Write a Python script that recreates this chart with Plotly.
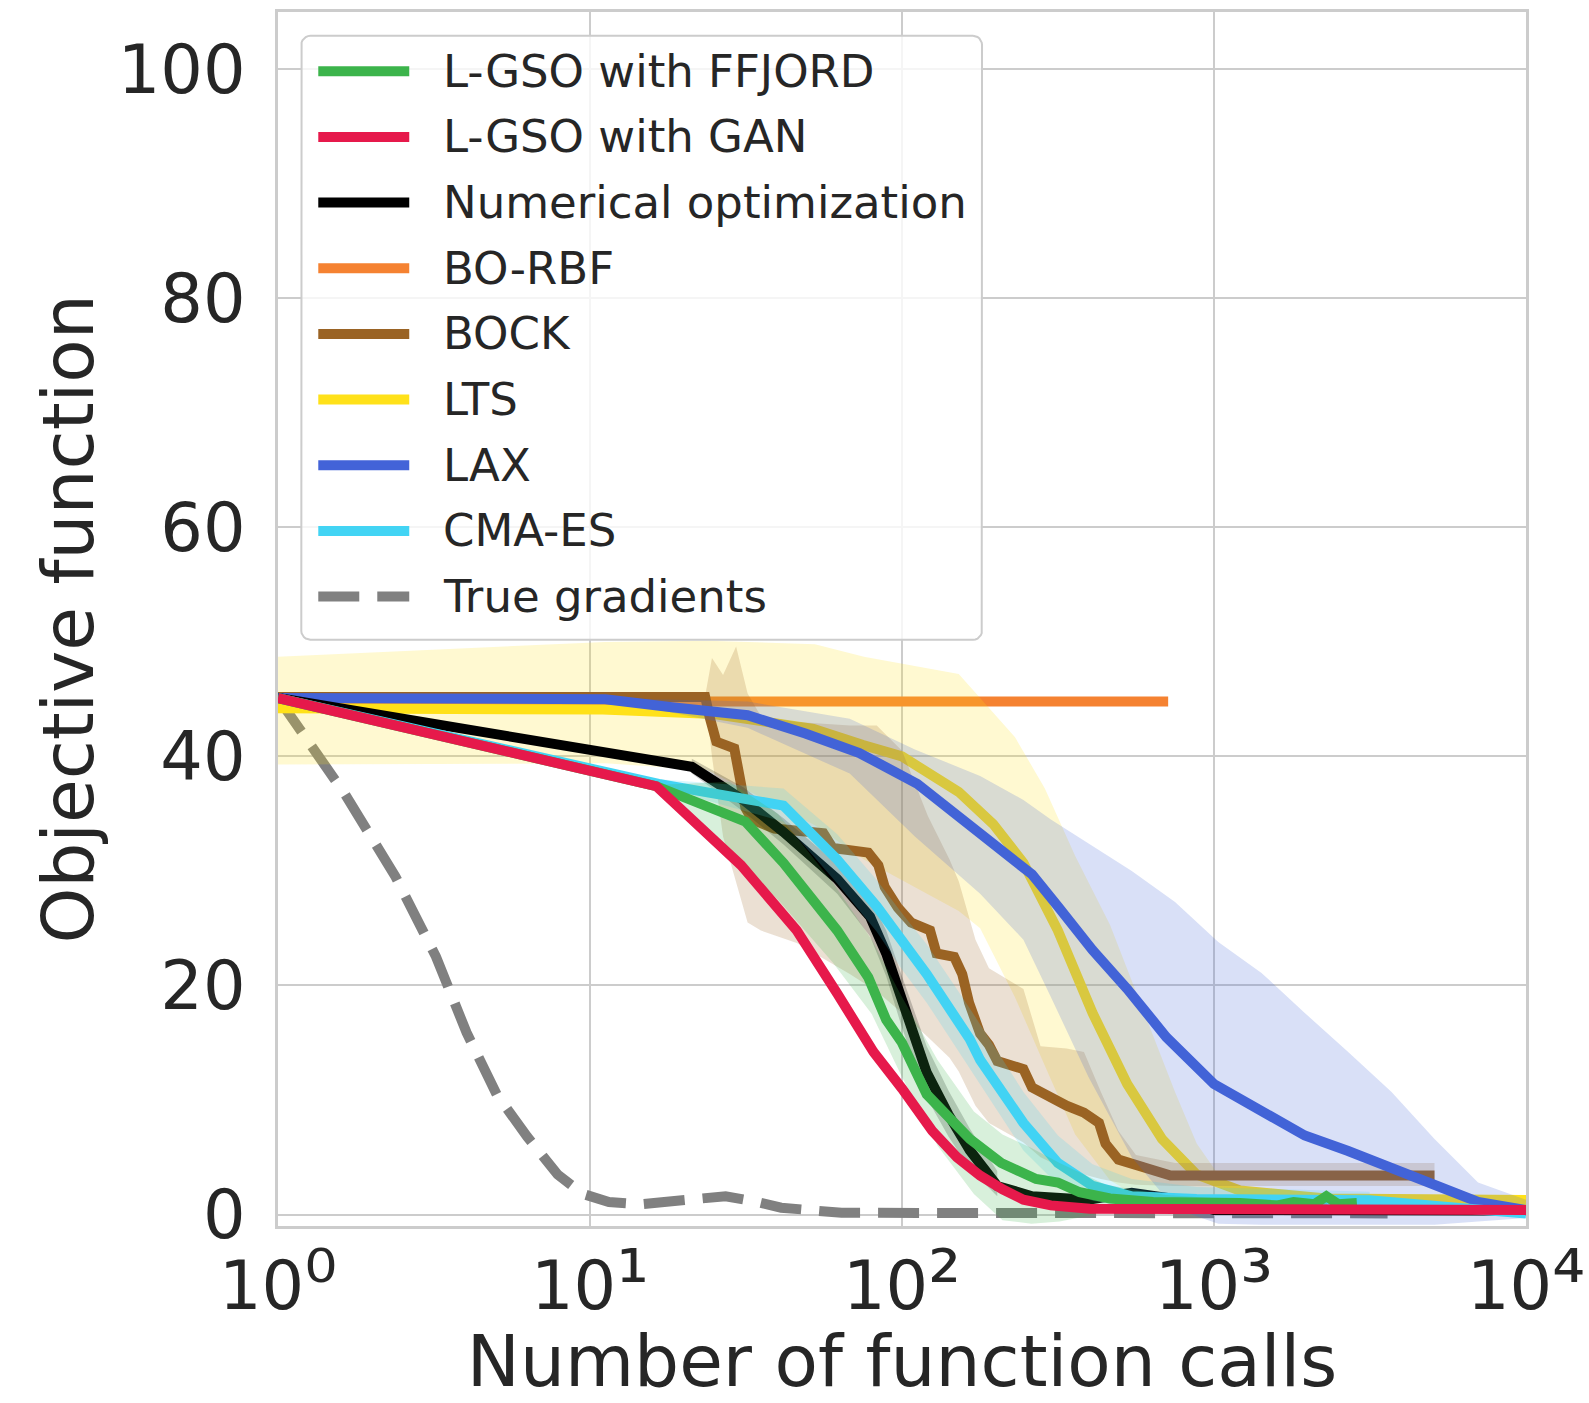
import math
import plotly.graph_objects as go

# ---------------- data ----------------
X_TICKS = [1, 10, 100, 1000, 10000]
X_TICK_EXP = ["⁰", "¹", "²", "³", "⁴"]
Y_TICKS = [0, 20, 40, 60, 80, 100]

LABELS = ["L-GSO with FFJORD", "L-GSO with GAN", "Numerical optimization", "BO-RBF",
          "BOCK", "LTS", "LAX", "CMA-ES", "True gradients"]
COLORS = ["#3CB44B", "#E6194B", "#000000", "#F58231", "#9A6324", "#FFE119", "#4363D8",
          "#42D4F4", "#808080"]

TG_X = [1, 1.64, 2.38, 3.21, 4.02, 5.02, 6.29, 7.87, 9.49, 11.5, 14.5, 17.7, 22, 27.2, 33, 41, 64, 227, 3600]
TG_Y = [45.1, 36.7, 29.5, 22.5, 15.9, 10.5, 6.8, 3.5, 1.8, 1.1, 0.9, 1.15, 1.5, 1.6, 1.2, 0.6, 0.15, 0.1, 0.1]

GAN_X = [1, 16.3, 30.5, 46, 62, 81, 100, 125, 150, 178, 210, 245, 300, 400, 10000]
GAN_Y = [45.1, 37.4, 30.5, 24.8, 19.3, 14.2, 11.0, 7.3, 5.0, 3.4, 2.2, 1.3, 0.8, 0.5, 0.4]

FF_X = [1, 16.3, 31.5, 41.7, 62, 78, 89, 100, 120, 165, 208, 269, 316, 371, 464, 638,
        1211, 1600, 1800, 2100, 2291, 2500, 2870]
FF_Y = [45.1, 37.4, 34.3, 30.7, 24.8, 20.7, 17.0, 15.0, 10.5, 6.6, 4.5, 3.1, 2.8, 1.95, 1.4, 1.1,
        1.0, 0.8, 1.1, 0.9, 1.6, 0.9, 1.0]

NUM_X = [1, 21.2, 31, 41.7, 62, 79, 89, 100, 120, 141, 165, 202, 261, 396, 545, 774, 1000, 10000]
NUM_Y = [45.1, 39.1, 36.2, 33.4, 29.3, 26.0, 22.8, 18.5, 12.4, 8.7, 5.6, 2.5, 1.6, 1.3, 1.9, 1.3, 0.4, 0.35]

CMA_X = [1, 16.6, 41.7, 62, 83, 100, 120, 165, 178, 245, 316, 408, 545, 879, 1667, 3155, 6000, 10000]
CMA_Y = [45.1, 37.6, 35.7, 31.0, 26.9, 23.8, 21.0, 15.3, 13.5, 8.0, 4.5, 2.5, 1.6, 1.35, 1.4, 1.25, 0.6, 0.1]

RBF_X = [1, 713]
RBF_Y = [44.8, 44.8]

BOCK_X = [1, 23.4, 24.2, 25.4, 29, 30, 31.5, 33.1, 39, 56, 60, 78, 84, 88, 97, 107, 123, 129, 147,
          156, 164, 178, 190, 202, 245, 261, 296, 337, 383, 428, 449, 494, 598, 726, 5090]
BOCK_Y = [45.2, 45.2, 43.4, 41.3, 40.7, 38.3, 35.5, 34.5, 33.7, 33.3, 32.0, 31.6, 30.5, 28.6, 26.8,
          25.5, 24.8, 22.8, 22.5, 21.0, 18.5, 15.8, 14.8, 13.4, 12.7, 11.1, 10.2, 9.5, 8.9, 8.0,
          6.2, 4.8, 4.1, 3.4, 3.4]

LTS_X = [1, 11, 25, 52, 75, 100, 152, 196, 245, 316, 408, 527, 681, 879, 1211, 2291, 10000]
LTS_Y = [44.2, 44.1, 43.7, 42.4, 41.0, 40.0, 36.9, 34.1, 30.7, 24.8, 17.6, 11.4, 6.6, 3.5, 2.1, 1.4, 1.26]

LAX_X = [1, 11.2, 18.3, 32, 49, 73, 112, 152, 178, 261, 316, 408, 527, 703, 1000, 1420, 1954,
         2692, 3707, 5100, 7020, 10000]
LAX_Y = [45.1, 45.0, 44.3, 43.6, 42.0, 40.3, 37.6, 34.8, 33.1, 29.7, 26.9, 23.1, 19.7, 15.5, 11.4,
         9.0, 6.9, 5.55, 4.0, 2.5, 1.1, 0.4]

# uncertainty bands (upper / lower edges)
LTSB_X = [1, 11.2, 23.8, 52.6, 75.5, 152, 178, 230, 287, 359, 464, 598, 750, 880, 1032, 1211, 1667, 10000]
LTSB_UP = [48.7, 50.0, 50.1, 49.8, 48.7, 47.2, 45.1, 41.7, 37.2, 31.3, 25.3, 17.6, 10.7, 6.2, 3.5, 2.1, 1.4, 1.3]
LTSB_LO = [39.3, 39.4, 38.8, 34.0, 31.0, 26.5, 25.0, 19.0, 13.0, 7.0, 3.0, 1.2, 0.8, 0.6, 0.6, 0.6, 0.6, 0.6]

BOCKB_X = [23.4, 24.6, 26.7, 29.4, 32, 35.3, 46, 68, 83, 100, 121, 142, 152, 172, 190, 245, 278,
           337, 383, 434, 494, 562, 750, 5090]
BOCKB_UP = [45.3, 48.6, 47.1, 49.6, 45.5, 43.5, 43.0, 42.7, 42.7, 40.5, 34.8, 31.0, 29.1, 24.0,
            21.5, 19.7, 14.7, 14.5, 14.2, 10.7, 7.3, 5.2, 4.5, 4.5]
BOCKB_LO = [45.3, 40.0, 33.0, 29.0, 25.5, 24.8, 23.7, 21.0, 19.5, 17.6, 15.5, 13.7, 12.5, 9.5,
            8.0, 6.3, 5.0, 3.9, 3.5, 3.1, 2.8, 2.6, 2.5, 2.5]

LAXB_X = [11.2, 32, 68, 110, 178, 245, 300, 396, 545, 750, 1032, 1420, 1954, 2692, 3707, 5090, 7020, 10000]
LAXB_UP = [45.1, 44.8, 43.3, 40.6, 38.3, 36.2, 34.5, 32.4, 30.0, 27.3, 23.8, 21.1, 17.6, 14.2,
           10.7, 6.6, 2.8, 1.3]
LAXB_LO = [45.0, 42.5, 38.5, 33.0, 28.0, 24.0, 19.0, 12.0, 5.0, 0.5, -0.8, -0.9, -0.9, -0.9,
           -0.9, -0.9, -0.6, -0.3]

NUMB_X = [21.2, 31, 41.7, 62, 79, 89, 100, 120, 141, 165, 202]
NUMB_UP = [39.8, 37.3, 34.6, 30.6, 27.6, 24.8, 20.8, 14.7, 10.8, 7.5, 3.8]
NUMB_LO = [38.5, 35.2, 32.3, 28.0, 24.3, 20.8, 16.3, 10.2, 6.8, 4.0, 1.6]

CMAB_X = [16.6, 41.7, 62, 83, 100, 120, 165, 245, 316, 408, 545, 879, 1667, 3155]
CMAB_UP = [38.0, 37.2, 33.2, 29.2, 26.3, 23.6, 18.0, 10.7, 6.9, 4.4, 3.1, 2.4, 2.2, 2.0]
CMAB_LO = [37.3, 34.3, 28.9, 24.7, 21.4, 18.5, 12.7, 5.6, 2.6, 1.2, 0.6, 0.6, 0.7, 0.6]

FFB_X = [16.3, 20, 28, 40, 60, 80, 100, 130, 170, 210, 260, 320, 450, 700, 1200, 2300]
FFB_UP = [37.5, 37.6, 37.8, 35.0, 29.0, 24.0, 19.0, 13.5, 9.0, 7.0, 5.8, 4.5, 2.6, 1.7, 1.3, 1.2]
FFB_LO = [37.2, 35.5, 31.5, 27.5, 22.0, 17.5, 12.0, 6.0, 1.8, -0.5, -0.8, -0.6, 0.2, 0.5, 0.6, 0.7]

# ---------------- figure ----------------
FONT = "DejaVu Sans"
TXT = "#262626"
LW = 10
DASH = "41px,18px"

fig = go.Figure()


def rgba(hex_color, a):
    h = hex_color.lstrip("#")
    r, g, b = int(h[0:2], 16), int(h[2:4], 16), int(h[4:6], 16)
    return f"rgba({r},{g},{b},{a})"


def add_line(x, y, idx, dash="solid"):
    fig.add_trace(go.Scatter(x=x, y=y, mode="lines", name=LABELS[idx],
                             line=dict(color=COLORS[idx], width=LW, dash=dash),
                             showlegend=False, hoverinfo="skip"))


def add_band(x, up, lo, idx):
    fig.add_trace(go.Scatter(x=list(x) + list(x)[::-1], y=list(up) + list(lo)[::-1],
                             mode="lines", fill="toself", fillcolor=rgba(COLORS[idx], 0.2),
                             line=dict(width=0), showlegend=False, hoverinfo="skip"))


add_line(TG_X, TG_Y, 8, DASH)
add_line(RBF_X, RBF_Y, 3)
add_line(LTS_X, LTS_Y, 5)
add_band(LTSB_X, LTSB_UP, LTSB_LO, 5)
add_line(BOCK_X, BOCK_Y, 4)
add_band(BOCKB_X, BOCKB_UP, BOCKB_LO, 4)
add_line(LAX_X, LAX_Y, 6)
add_band(LAXB_X, LAXB_UP, LAXB_LO, 6)
add_line(NUM_X, NUM_Y, 2)
add_band(NUMB_X, NUMB_UP, NUMB_LO, 2)
add_line(CMA_X, CMA_Y, 7)
add_band(CMAB_X, CMAB_UP, CMAB_LO, 7)
add_line(FF_X, FF_Y, 0)
add_band(FFB_X, FFB_UP, FFB_LO, 0)
add_line(GAN_X, GAN_Y, 1)

# ---------------- legend: framed box on an overlay (0..1) subplot ----------------
PL, PT, PW, PH = 277.7, 12.2, 1248.5, 1214.0  # plot-area geometry in px


def fx(xp):
    return (xp - PL) / PW


def fy(yp):
    return 1 - (yp - PT) / PH


bx0, bx1, by_top, by_bot = 301, 982, 36, 640
rad = 9
corners = [(bx1 - rad, by_top + rad, -90, 0), (bx1 - rad, by_bot - rad, 0, 90),
           (bx0 + rad, by_bot - rad, 90, 180), (bx0 + rad, by_top + rad, 180, 270)]
box_x, box_y = [], []
for cx, cy, a0, a1 in corners:
    for k in range(7):
        a = math.radians(a0 + (a1 - a0) * k / 6)
        box_x.append(fx(cx + rad * math.cos(a)))
        box_y.append(fy(cy + rad * math.sin(a)))
box_x.append(box_x[0])
box_y.append(box_y[0])
fig.add_trace(go.Scatter(x=box_x, y=box_y, xaxis="x2", yaxis="y2", mode="lines", fill="toself",
                         fillcolor="rgba(255,255,255,0.8)", line=dict(color="#cccccc", width=2),
                         showlegend=False, hoverinfo="skip"))

annotations = []
row0, row_gap = 71.5, 65.66
for i, lab in enumerate(LABELS):
    yc = fy(row0 + i * row_gap)
    fig.add_trace(go.Scatter(x=[fx(318), fx(409)], y=[yc, yc], xaxis="x2", yaxis="y2", mode="lines",
                             line=dict(color=COLORS[i], width=LW, dash=DASH if i == 8 else "solid"),
                             showlegend=False, hoverinfo="skip"))
    annotations.append(dict(xref="paper", yref="paper", x=fx(441), y=yc, text=lab, showarrow=False,
                            xanchor="left", yanchor="middle",
                            font=dict(family=FONT, size=45, color=TXT)))

tick_text = ["10<span style='font-size:82px'>" + e + "</span>" for e in X_TICK_EXP]

axis_common = dict(showgrid=True, gridcolor="#cccccc", gridwidth=2, showline=True, linecolor="#cccccc",
                   linewidth=3, mirror=True, zeroline=False, ticks="", automargin=False,
                   tickfont=dict(family=FONT, size=67, color=TXT))

fig.update_layout(
    width=1589, height=1403,
    margin=dict(l=278, r=63, t=12, b=177, pad=0),
    paper_bgcolor="white", plot_bgcolor="white",
    font=dict(family=FONT, color=TXT),
    showlegend=False,
    annotations=annotations,
    xaxis=dict(type="log", range=[0, 4], tickvals=X_TICKS, ticktext=tick_text,
               title=dict(text="Number of function calls", font=dict(family=FONT, size=71, color=TXT),
                          standoff=36),
               ticklabelstandoff=0, **axis_common),
    yaxis=dict(range=[-1, 105], tickvals=Y_TICKS,
               title=dict(text="Objective function", font=dict(family=FONT, size=71, color=TXT),
                          standoff=1),
               ticklabelstandoff=16, **axis_common),
    xaxis2=dict(overlaying="x", range=[0, 1], visible=False, fixedrange=True),
    yaxis2=dict(overlaying="y", range=[0, 1], visible=False, fixedrange=True),
)

fig.write_html("out.html")
